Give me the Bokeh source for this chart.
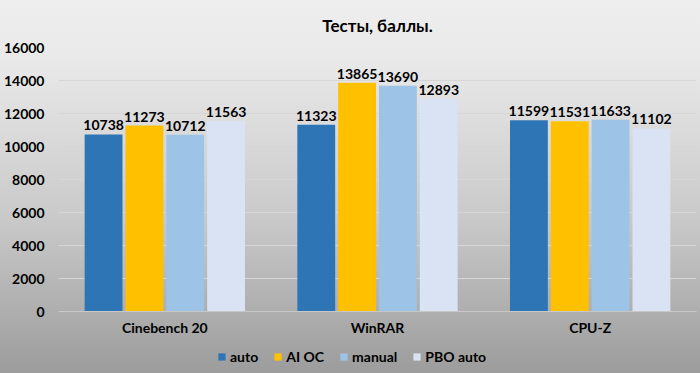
from bokeh.plotting import figure
from bokeh.models import ColumnDataSource, LabelSet, Legend, LegendItem, FactorRange, Range1d
from bokeh.core.properties import value
from bokeh.transform import dodge
from bokeh.embed import file_html
from bokeh.resources import INLINE

categories = ["Cinebench 20", "WinRAR", "CPU-Z"]
series_names = ["auto", "AI OC", "manual", "PBO auto"]
auto = [10738, 11323, 11599]
ai_oc = [11273, 13865, 11531]
manual = [10712, 13690, 11633]
pbo_auto = [11563, 12893, 11102]
y_ticks = [0, 2000, 4000, 6000, 8000, 10000, 12000, 14000, 16000]

colors = ["#2e75b6", "#ffc000", "#9dc3e6", "#dae3f3"]
offsets = [-0.288, -0.096, 0.096, 0.288]
FONT = "Lato"

src = ColumnDataSource(data=dict(cat=categories, auto=auto, ai_oc=ai_oc, manual=manual, pbo_auto=pbo_auto,
                                 auto_t=[str(v) for v in auto], ai_oc_t=[str(v) for v in ai_oc],
                                 manual_t=[str(v) for v in manual], pbo_auto_t=[str(v) for v in pbo_auto]))

p = figure(width=700, height=373, x_range=FactorRange(*categories, range_padding=0),
           y_range=Range1d(-3730, 16000), output_backend="svg", toolbar_location=None,
           min_border_left=10, min_border_right=4, min_border_top=10, min_border_bottom=0,
           title="Тесты, баллы.")
p.stylesheets = [":host { background: linear-gradient(to bottom, #eeeeee 0%, #e9e9e9 16%, #c8c8c8 60%, #9c9c9c 100%); }"]
p.border_fill_color = None
p.background_fill_color = None
p.outline_line_color = None

p.title.align = "center"
p.title.offset = -27
p.title.text_font = FONT
p.title.text_font_size = "17px"
p.title.text_font_style = "bold"
p.title.text_color = "#000000"
p.title.standoff = 24

fields = ["auto", "ai_oc", "manual", "pbo_auto"]
items = []
for f, name, c, off in zip(fields, series_names, colors, offsets):
    r = p.vbar(x=dodge("cat", off, range=p.x_range), top=f, bottom=0, width=0.178, source=src,
               fill_color=c, line_color=None)
    items.append(LegendItem(label=name, renderers=[r]))
    lbl = LabelSet(x=dodge("cat", off, range=p.x_range), y=f, text=f + "_t", source=src,
                   text_align="center", text_baseline="bottom", y_offset=4,
                   text_font=value(FONT), text_font_size=value("14px"), text_font_style=value("bold"),
                   text_color=value("#000000"))
    p.add_layout(lbl)

p.yaxis.ticker = y_ticks
p.yaxis.axis_line_color = None
p.yaxis.major_tick_line_color = None
p.yaxis.minor_tick_line_color = None
p.yaxis.major_label_standoff = 8
p.yaxis.major_label_text_font = FONT
p.yaxis.major_label_text_font_size = "14px"
p.yaxis.major_label_text_font_style = "bold"
p.yaxis.major_label_text_color = "#000000"

p.xaxis.fixed_location = 0
p.xaxis.axis_line_color = "#c8c8c8"
p.xaxis.major_tick_line_color = None
p.xaxis.minor_tick_line_color = None
p.xaxis.major_label_standoff = 1
p.xaxis.major_label_text_font = FONT
p.xaxis.major_label_text_font_size = "14px"
p.xaxis.major_label_text_font_style = "bold"
p.xaxis.major_label_text_color = "#000000"

p.xgrid.grid_line_color = None
p.ygrid.grid_line_color = "#d6d6d6"

legend = Legend(items=items, orientation="horizontal", location=(159, 8),
                label_text_font=FONT, label_text_font_size="14px", label_text_font_style="bold",
                label_text_color="#000000", glyph_width=9, glyph_height=9, spacing=15,
                label_standoff=4, padding=0, margin=0,
                background_fill_alpha=0, border_line_color=None)
p.add_layout(legend)

open("out.html", "w").write(file_html(p, INLINE))
